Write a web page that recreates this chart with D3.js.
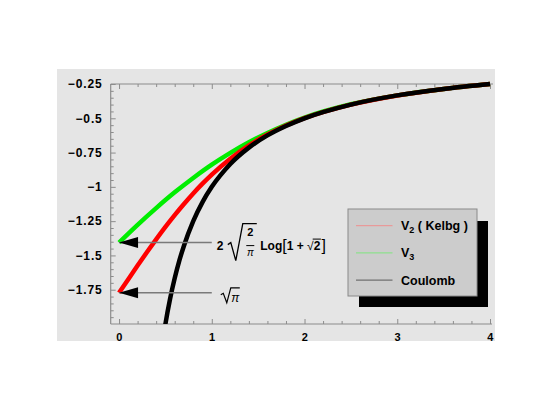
<!DOCTYPE html>
<html>
<head>
<meta charset="utf-8">
<script src="https://cdn.jsdelivr.net/npm/d3@7"></script>
<style>
	body { margin: 0; background: #fff; }
	svg { display: block; }
	text { font-family: "Liberation Sans", Arial, Helvetica, sans-serif; white-space: pre; }
</style>
</head>
<body>
<svg id="chart" width="545" height="407"></svg>
<script>
// values
var rKelbg = [0, 0.1, 0.2, 0.3, 0.4, 0.5, 0.6, 0.7, 0.8, 0.9, 1.0, 1.2, 1.4, 1.6, 1.8, 2.0, 2.5, 3.0, 3.5, 4.0];
var vKelbg = [-1.7725, -1.673, -1.574, -1.477, -1.383, -1.292, -1.206, -1.125, -1.048, -0.977, -0.911, -0.795, -0.698, -0.619, -0.553, -0.499, -0.400, -0.3333, -0.2857, -0.25];

var rV3 = [0, 0.2, 0.4, 0.6, 0.8, 1.0, 1.2, 1.4, 1.6, 1.8, 2.0, 2.5, 3.0, 3.5, 4.0];
var vV3 = [-1.4065, -1.277, -1.155, -1.04, -0.935, -0.838, -0.752, -0.675, -0.607, -0.547, -0.495, -0.398, -0.333, -0.2857, -0.25];

var rCoulomb = [0.45, 0.5, 0.55, 0.6, 0.65, 0.7, 0.8, 0.9, 1.0, 1.2, 1.4, 1.6, 1.8, 2.0, 2.5, 3.0, 3.5, 4.0];
var vCoulomb = [-2.222, -2.0, -1.818, -1.667, -1.538, -1.429, -1.25, -1.111, -1.0, -0.833, -0.714, -0.625, -0.556, -0.5, -0.4, -0.333, -0.286, -0.25];

var xTicks = [0, 1, 2, 3, 4];
var yTicks = [-1.75, -1.5, -1.25, -1, -0.75, -0.5, -0.25];
var yTickLabels = ["\u22121.75", "\u22121.5", "\u22121.25", "\u22121", "\u22120.75", "\u22120.5", "\u22120.25"];

var legendNames = ["V2 ( Kelbg )", "V3", "Coulomb"];
var legendColors = ["#e89a9a", "#8ee08e", "#707070"];

var svg = d3.select("#chart");

var x = d3.scaleLinear().domain([-0.09, 4]).range([110.7, 490]);
var y = d3.scaleLinear().domain([-2, -0.25]).range([324, 84]);

// background panel
svg.append("rect")
	.attr("x", 57).attr("y", 69)
	.attr("width", 438).attr("height", 272)
	.attr("fill", "#e5e5e5");

svg.append("clipPath").attr("id", "plotclip")
	.append("rect")
	.attr("x", x(-0.09)).attr("y", y(-0.25) - 3)
	.attr("width", 492 - x(-0.09)).attr("height", y(-2) - y(-0.25) + 3);

var axisColor = "#8c8c8c";
var minorX = d3.range(0, 4.001, 0.2).filter(function(v) { return Math.abs(v - Math.round(v)) > 1e-6; });
var minorY = d3.range(-2, -0.2499, 0.05).filter(function(v) { return Math.abs(v * 4 - Math.round(v * 4)) > 1e-6; });

function styleAxis(g, size, spacing) {
	g.select(".domain").remove();
	g.selectAll(".tick line").attr("stroke", axisColor);
	g.selectAll(".tick text")
		.attr("fill", "#000")
		.attr("font-weight", "bold")
		.attr("font-size", (size || 11) + "px")
		.attr("letter-spacing", (spacing || 0.5) + "px")
		.attr("font-family", "'Liberation Sans', Arial, sans-serif");
}

// bottom axis
svg.append("g").attr("transform", "translate(0," + y(-2) + ")")
	.call(d3.axisBottom(x).tickValues(minorX).tickSize(-3).tickFormat(""))
	.call(styleAxis);
svg.append("g").attr("transform", "translate(0," + y(-2) + ")")
	.call(d3.axisBottom(x).tickValues(xTicks).tickSize(-5).tickPadding(9).tickFormat(d3.format("d")))
	.call(styleAxis);
// top frame
svg.append("g").attr("transform", "translate(0," + y(-0.25) + ")")
	.call(d3.axisTop(x).tickValues(minorX).tickSize(-3).tickFormat(""))
	.call(styleAxis);
svg.append("g").attr("transform", "translate(0," + y(-0.25) + ")")
	.call(d3.axisTop(x).tickValues(xTicks).tickSize(-5).tickFormat(""))
	.call(styleAxis);
// left axis
svg.append("g").attr("transform", "translate(" + x(-0.09) + ",0)")
	.call(d3.axisLeft(y).tickValues(minorY).tickSize(-3).tickFormat(""))
	.call(styleAxis);
svg.append("g").attr("transform", "translate(" + x(-0.09) + ",0)")
	.call(d3.axisLeft(y).tickValues(yTicks).tickSize(-5).tickPadding(8)
		.tickFormat(function(d, i) { return yTickLabels[i]; }))
	.call(styleAxis, 12, 0.9);

svg.append("line")
	.attr("x1", x(-0.09)).attr("x2", 492)
	.attr("y1", y(-2)).attr("y2", y(-2))
	.attr("stroke", axisColor).attr("stroke-width", 1.2);
svg.append("line")
	.attr("x1", x(-0.09)).attr("x2", 493)
	.attr("y1", y(-0.25)).attr("y2", y(-0.25))
	.attr("stroke", axisColor).attr("stroke-width", 1.2);
svg.append("line")
	.attr("x1", x(-0.09)).attr("x2", x(-0.09))
	.attr("y1", y(-0.25)).attr("y2", y(-2))
	.attr("stroke", axisColor).attr("stroke-width", 1.2);

// curves
var line = d3.line()
	.x(function(d) { return x(d[0]); })
	.y(function(d) { return y(d[1]); })
	.curve(d3.curveMonotoneX);

var curves = [
	{ r: rCoulomb, v: vCoulomb, color: "#000000" },
	{ r: rKelbg, v: vKelbg, color: "#ff0000" },
	{ r: rV3, v: vV3, color: "#00ee00" },
];
// draw order: green, red, black on top at large r
[curves[2], curves[1], curves[0]].forEach(function(c) {
	svg.append("path")
		.datum(d3.zip(c.r, c.v))
		.attr("clip-path", "url(#plotclip)")
		.attr("fill", "none")
		.attr("stroke", c.color)
		.attr("stroke-width", 4.5)
		.attr("d", line);
});

// arrows
[vV3[0], vKelbg[0]].forEach(function(v) {
	var ay = y(v);
	svg.append("line")
		.attr("x1", x(0)).attr("x2", x(1))
		.attr("y1", ay).attr("y2", ay)
		.attr("stroke", "#7a7a7a").attr("stroke-width", 1.5);
	svg.append("path")
		.attr("d", "M" + x(0) + "," + ay + "L" + (x(0) + 19) + "," + (ay - 5.5) + "L" + (x(0) + 19) + "," + (ay + 5.5) + "Z")
		.attr("fill", "#000");
});

// annotation: 2 sqrt(2/pi) Log[1 + sqrt(2)]
var a1 = svg.append("g").attr("transform", "translate(" + (x(1) + 5) + "," + (y(vV3[0]) + 7) + ")");
a1.append("text").attr("x", 0).attr("y", 0)
	.attr("font-weight", "bold").attr("font-size", "12px").text("2");
a1.append("path")
	.attr("d", "M11,-5 L14,-7 L19,11 L26,-26 L40,-26")
	.attr("fill", "none").attr("stroke", "#000").attr("stroke-width", 1.3);
a1.append("text").attr("x", 33.5).attr("y", -14)
	.attr("text-anchor", "middle").attr("font-weight", "bold").attr("font-size", "11px").text("2");
a1.append("line").attr("x1", 29.5).attr("x2", 37.5).attr("y1", -4).attr("y2", -4)
	.attr("stroke", "#000").attr("stroke-width", 1);
a1.append("text").attr("x", 33.5).attr("y", 6)
	.attr("text-anchor", "middle").attr("font-style", "italic").attr("font-size", "10px")
	.attr("font-family", "'Liberation Serif', serif").text("\u03c0");

var cursor = 43.5;
function piece(g, str, size, weight, dy) {
	var t = g.append("text").attr("x", cursor).attr("y", dy || 0)
		.attr("font-size", size + "px").attr("font-weight", weight).text(str);
	var w = t.node().getComputedTextLength();
	var x0 = cursor;
	cursor += w;
	return { x0: x0, w: w };
}
piece(a1, "Log", 12, "bold");
piece(a1, "[", 16, "normal", 1);
piece(a1, "1 + ", 12, "bold");
var rad = piece(a1, "\u221a", 12, "normal");
var two = piece(a1, "2", 12, "bold");
a1.append("line").attr("x1", rad.x0 + rad.w - 1).attr("x2", two.x0 + two.w + 0.5)
	.attr("y1", -10.5).attr("y2", -10.5).attr("stroke", "#000").attr("stroke-width", 1);
cursor += 1;
piece(a1, "]", 16, "normal", 1);

// annotation: sqrt(pi)
var a2 = svg.append("g").attr("transform", "translate(" + (x(1) + 9) + "," + (y(vKelbg[0]) + 5) + ")");
a2.append("path")
	.attr("d", "M0,-3 L2.5,-4.5 L6,5 L10,-10 L19,-10")
	.attr("fill", "none").attr("stroke", "#000").attr("stroke-width", 1.2);
a2.append("text").attr("x", 14.5).attr("y", 4)
	.attr("text-anchor", "middle").attr("font-style", "italic").attr("font-size", "12px")
	.attr("font-family", "'Liberation Serif', serif").text("\u03c0");

// legend
var lg = svg.append("g").attr("transform", "translate(348,209)");
lg.append("rect").attr("x", 11).attr("y", 12).attr("width", 129).attr("height", 86).attr("fill", "#000");
lg.append("rect").attr("x", 0).attr("y", 0).attr("width", 129).attr("height", 87)
	.attr("fill", "#cccccc").attr("stroke", "#8a8a8a").attr("stroke-width", 1);
legendNames.forEach(function(name, i) {
	var ly = 16.7 + i * 27.2;
	lg.append("line").attr("x1", 8).attr("x2", 44.5).attr("y1", ly).attr("y2", ly)
		.attr("stroke", legendColors[i]).attr("stroke-width", 1.3);
	var t = lg.append("text").attr("x", 53).attr("y", ly + 4.5)
		.attr("font-weight", "bold").attr("font-size", "12.5px");
	if (name.charAt(0) === "V") {
		t.append("tspan").text("V");
		t.append("tspan").attr("font-size", "9px").attr("dy", 3).text(name.charAt(1));
		t.append("tspan").attr("dy", -3).text(name.slice(2));
	} else {
		t.text(name);
	}
});
</script>
</body>
</html>
